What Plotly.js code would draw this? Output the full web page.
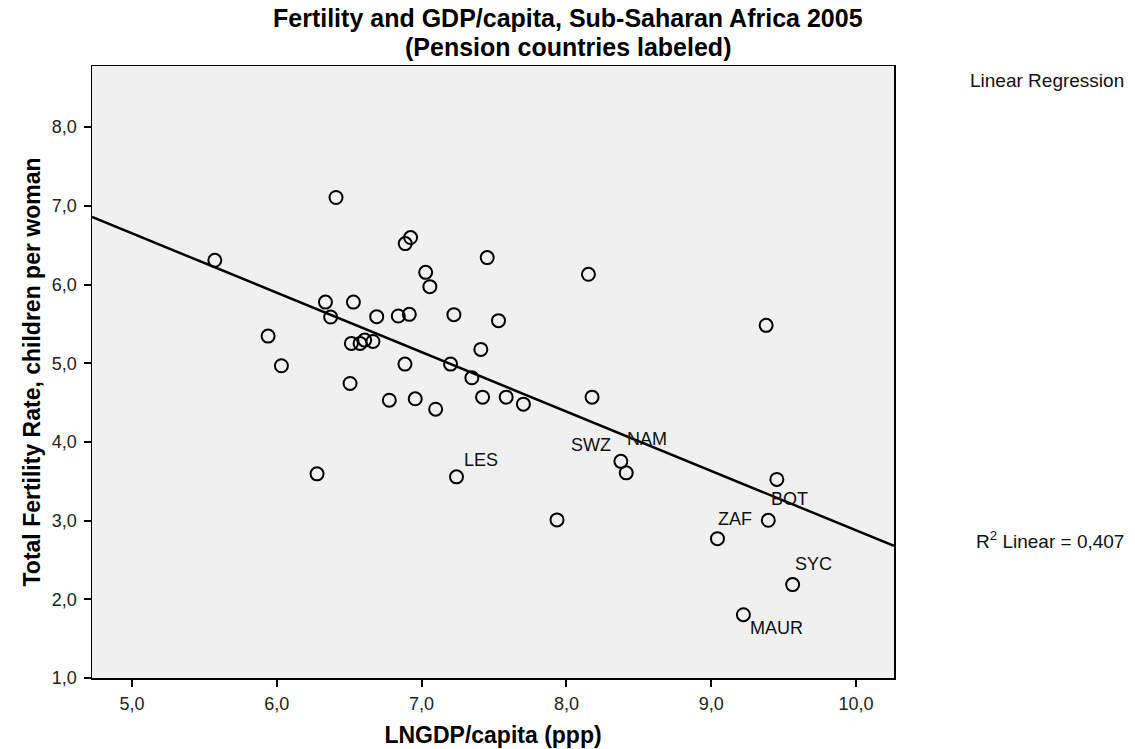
<!DOCTYPE html>
<html>
<head>
<meta charset="utf-8">
<script src="https://cdn.plot.ly/plotly-3.0.1.min.js"></script>
<style>html,body{margin:0;padding:0;background:#fff;}#chart{width:1135px;height:749px;}</style>
</head>
<body>
<div id="chart"></div>
<script>
// ln GDP per capita (ppp)
const lnGdp = [5.572, 5.94, 6.032, 6.278, 6.409, 6.336, 6.372, 6.529, 6.515, 6.575,
  6.607, 6.664, 6.506, 6.69, 6.777, 6.839, 6.915, 6.885, 6.887, 6.924,
  6.956, 7.028, 7.057, 7.097, 7.2, 7.223, 7.241, 7.347, 7.409, 7.421,
  7.453, 7.531, 7.584, 7.703, 7.935, 8.152, 8.177, 8.376, 8.413, 9.043,
  9.222, 9.379, 9.394, 9.453, 9.562];
// Total fertility rate, children per woman
const fertility = [6.308, 5.345, 4.968, 3.594, 7.106, 5.777, 5.587, 5.777, 5.252, 5.252,
  5.294, 5.277, 4.743, 5.592, 4.53, 5.60, 5.621, 4.989, 6.52, 6.597,
  4.548, 6.155, 5.973, 4.416, 4.989, 5.617, 3.556, 4.815, 5.176, 4.569,
  6.342, 5.541, 4.569, 4.48, 3.009, 6.13, 4.569, 3.753, 3.607, 2.771,
  1.804, 5.481, 3.004, 3.524, 2.187];
// Pension country labels (index into the arrays above)
const labelNames = ["LES", "SWZ", "NAM", "ZAF", "MAUR", "BOT", "SYC"];
const labelIndex = [26, 37, 38, 39, 40, 42, 44];
const xTicks = [5, 6, 7, 8, 9, 10];
const yTicks = [1, 2, 3, 4, 5, 6, 7, 8];
const titleLines = ["Fertility and GDP/capita, Sub-Saharan Africa 2005", "(Pension countries labeled)"];
const fitLabel = "Linear Regression";
const r2Text = "R<sup>2</sup> Linear = 0,407";

// OLS fit computed from the data
const n = lnGdp.length;
const mx = lnGdp.reduce((a, b) => a + b, 0) / n;
const my = fertility.reduce((a, b) => a + b, 0) / n;
let sxy = 0, sxx = 0;
for (let i = 0; i < n; i++) { sxy += (lnGdp[i] - mx) * (fertility[i] - my); sxx += (lnGdp[i] - mx) ** 2; }
const slope = sxy / sxx, intercept = my - slope * mx;
const xr = [4.724, 10.262];
const fitX = xr.slice();
const fitY = fitX.map(x => intercept + slope * x);

// label offsets (px): [xshift, yshift]
const labelShift = {
  LES: [5, 17], SWZ: [-8, 16], NAM: [-1, 34], ZAF: [-1, 20],
  MAUR: [5, -13], BOT: [1, 21], SYC: [0, 21]
};
const labelAnchor = { SWZ: "right" };

const font = "Liberation Sans, Arial, sans-serif";
const plotL = 92, plotR = 894, pageW = 1135;
const plotW = plotR - plotL;

const annotations = labelNames.map((name, k) => {
  const i = labelIndex[k];
  const s = labelShift[name];
  return {
    x: lnGdp[i], y: fertility[i], xref: "x", yref: "y", text: name,
    showarrow: false, xanchor: labelAnchor[name] || "left", yanchor: "middle",
    xshift: s[0], yshift: s[1], font: { family: font, size: 18, color: "#111" }
  };
});
const titleShift = [48, 19];
titleLines.forEach((t, k) => annotations.push({
  x: (pageW / 2 - plotL) / plotW, y: 1, xref: "paper", yref: "paper",
  xanchor: "center", yanchor: "middle", yshift: titleShift[k], showarrow: false,
  text: "<b>" + t + "</b>",
  font: { family: font, size: 25, color: "#000" }
}));
annotations.push({
  x: (1126 - plotL) / plotW, y: 1, xref: "paper", yref: "paper",
  xanchor: "right", yanchor: "middle", yshift: -14, showarrow: false,
  text: fitLabel, font: { family: font, size: 19, color: "#111" }
});
annotations.push({
  x: (1126 - plotL) / plotW, y: 0, xref: "paper", yref: "paper",
  xanchor: "right", yanchor: "middle", yshift: 138, showarrow: false,
  text: r2Text, font: { family: font, size: 19, color: "#111" }
});

const traces = [
  {
    x: fitX, y: fitY, mode: "lines", type: "scatter",
    line: { color: "#000", width: 2.5 }, hoverinfo: "skip", showlegend: false
  },
  {
    x: lnGdp, y: fertility, mode: "markers", type: "scatter",
    marker: { symbol: "circle-open", size: 13, color: "#000", line: { width: 2, color: "#000" } },
    showlegend: false
  }
];

const layout = {
  width: 1135, height: 749,
  margin: { l: plotL, r: pageW - plotR, t: 66, b: 71 },
  paper_bgcolor: "#fff", plot_bgcolor: "#f0f0f0",
  separators: ",.",
  showlegend: false,
  xaxis: {
    range: xr, tickvals: xTicks, tickformat: ".1f", ticks: "outside", ticklen: 7, tickwidth: 2,
    tickcolor: "#000", showgrid: false, zeroline: false, showline: true, mirror: true,
    linecolor: "#000", linewidth: 1.5, ticklabelstandoff: 2,
    tickfont: { family: font, size: 18, color: "#222" },
    title: { text: "LNGDP/capita (ppp)", standoff: 14, font: { family: font, size: 23, color: "#000", weight: "bold" } }
  },
  yaxis: {
    range: [1, 8.777], tickvals: yTicks, tickformat: ".1f", ticks: "outside", ticklen: 7, tickwidth: 2,
    tickcolor: "#000", showgrid: false, zeroline: false, showline: true, mirror: true,
    linecolor: "#000", linewidth: 1.5, ticklabelstandoff: 3,
    tickfont: { family: font, size: 18, color: "#222" },
    title: { text: "Total Fertility Rate, children per woman", standoff: 5, font: { family: font, size: 23, color: "#000", weight: "bold" } }
  },
  annotations: annotations
};

Plotly.newPlot("chart", traces, layout, { displayModeBar: false, staticPlot: true });
</script>
</body>
</html>
